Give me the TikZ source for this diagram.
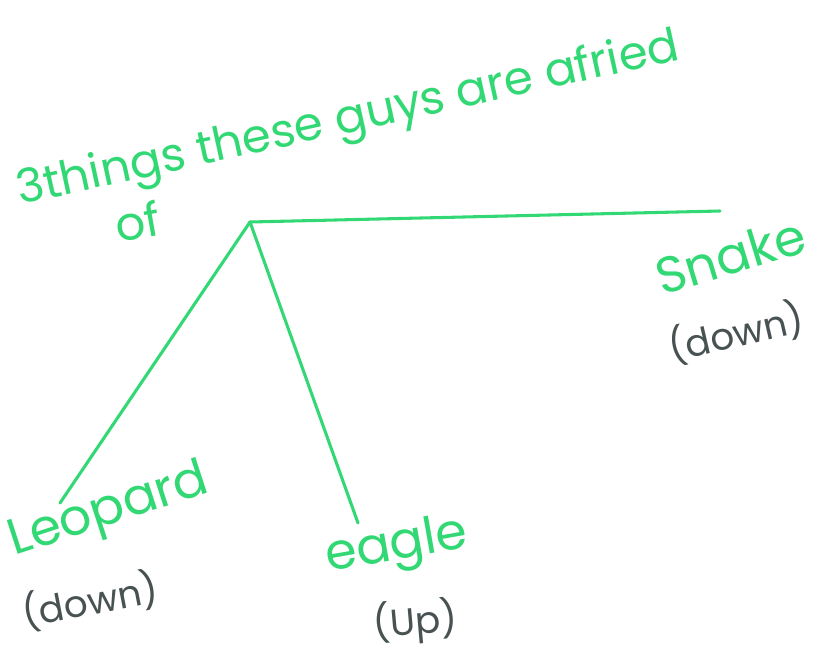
\documentclass[tikz,border=0pt]{standalone}
\usepackage{fontspec}
\setmainfont{Poppins}
\usetikzlibrary{positioning, calc}
\definecolor{penGreen}{RGB}{50,216,116}
\definecolor{penGray}{RGB}{72,82,82}
\tikzset{
    greentext/.style={text=penGreen, inner sep=0pt, font=\fontsize{35}{40}\selectfont},
    bigtext/.style={text=penGreen, inner sep=0pt, font=\fontsize{38}{42}\selectfont},
    graytext/.style={text=penGray, inner sep=0pt, font=\fontsize{28}{32}\selectfont},
    branch/.style={draw=penGreen, line width=2.3pt, line cap=round}
}

\begin{document}
\begin{tikzpicture}[x=0.75pt, y=-0.75pt]
\useasboundingbox (0,0) rectangle (817,661);
% title
\node[greentext, rotate=12.4, anchor=base west] (title) at (20,205) {3things these guys are afried};
\node[greentext, rotate=10, anchor=base west] (titleof) at (118,243) {of};
% branches
\coordinate (hub) at (250,222);
\coordinate (snakeEnd) at (720,211);
\coordinate (leopardEnd) at (60,503);
\coordinate (eagleEnd) at (358,523);
\draw[branch] (hub) -- (snakeEnd);
\draw[branch] (hub) -- (leopardEnd);
\draw[branch] (hub) -- (eagleEnd);
% labels
\node[bigtext, rotate=17, anchor=base west] (snake) at (662,296) {Snake};
\node[graytext, rotate=13, anchor=base west] (snakeNote) at (672,362) {(down)};
\node[bigtext, rotate=18, anchor=base west] (leopard) at (14,556) {Leopard};
\node[graytext, rotate=11, anchor=base west] (leopardNote) at (25,628) {(down)};
\node[bigtext, rotate=10, anchor=base west] (eagle) at (328,572) {eagle};
\node[graytext, rotate=5, anchor=base west] (eagleNote) at (374,638) {(Up)};
\end{tikzpicture}
\end{document}
